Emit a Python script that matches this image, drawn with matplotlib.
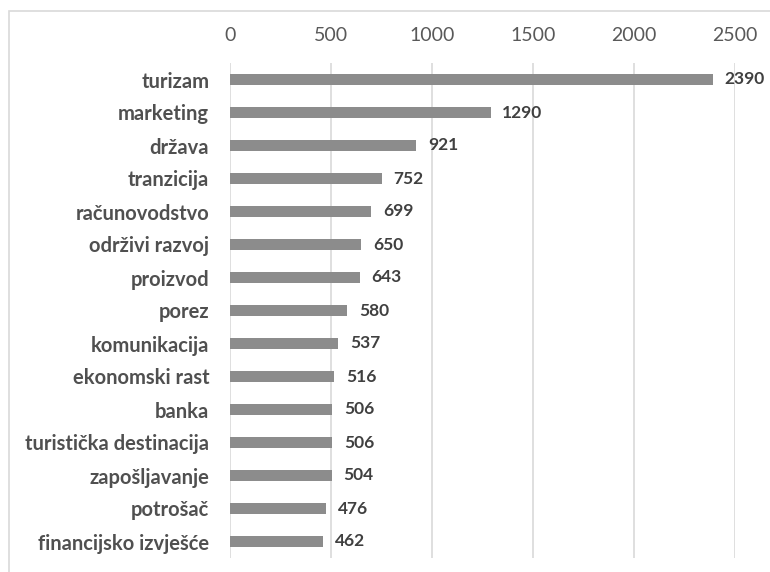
import matplotlib
matplotlib.use('Agg')
import matplotlib.pyplot as plt
from matplotlib.patches import Rectangle

# podaci
kategorije = ['turizam', 'marketing', 'država', 'tranzicija', 'računovodstvo',
              'održivi razvoj', 'proizvod', 'porez', 'komunikacija', 'ekonomski rast',
              'banka', 'turistička destinacija', 'zapošljavanje', 'potrošač',
              'financijsko izvješće']
vrijednosti = [2390, 1290, 921, 752, 699, 650, 643, 580, 537, 516, 506, 506, 504, 476, 462]
oznake_x = [0, 500, 1000, 1500, 2000, 2500]

plt.rcParams['font.family'] = ['Lato', 'DejaVu Sans']

fig = plt.figure(figsize=(7.7, 5.72), dpi=100)
ax = fig.add_axes([230 / 770, 1 - 558 / 572, 505 / 770, 495 / 572])

# okvir oko grafikona
fig.patches.append(Rectangle((9 / 770, -0.1), 1.2, 1.1 - 11 / 572,
                             transform=fig.transFigure, fill=False,
                             edgecolor='#d9d9d9', linewidth=1.2))

y = list(range(len(kategorije)))
ax.barh(y, vrijednosti, height=0.31, color='#8c8c8c', zorder=3)
for i, v in enumerate(vrijednosti):
    ax.text(v + 58, i, str(v), va='center', ha='left', fontsize=12.5,
            fontweight='bold', color='#404040')

ax.set_ylim(len(kategorije) - 0.5, -0.5)
ax.set_xlim(0, 2500)
ax.set_xticks(oznake_x)
ax.set_yticks(y)
ax.set_yticklabels(kategorije, fontsize=14.5, fontweight='bold', color='#505050')
ax.xaxis.tick_top()
ax.tick_params(axis='x', length=0, pad=14, labelsize=14, labelcolor='#595959')
ax.tick_params(axis='y', length=0, pad=15)
ax.grid(axis='x', color='#d9d9d9', linewidth=1.2, zorder=0)
for s in ax.spines.values():
    s.set_visible(False)

fig.savefig('out.png', dpi=100)
